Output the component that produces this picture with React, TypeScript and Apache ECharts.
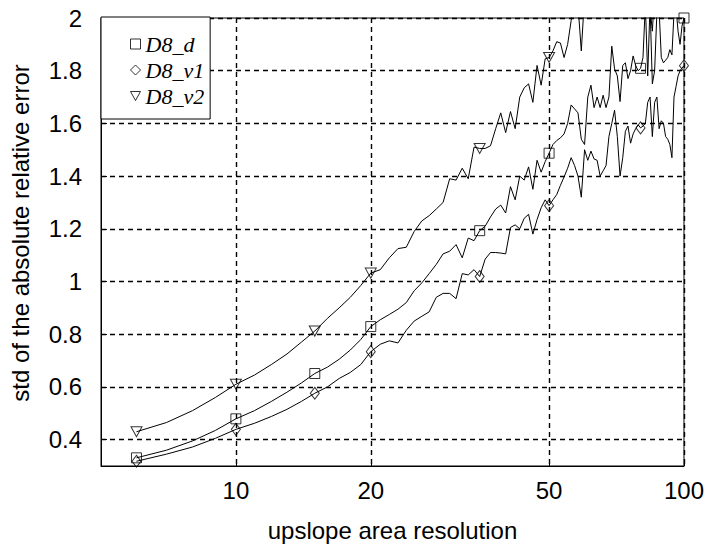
import React, { useEffect, useRef } from "react";
import * as echarts from "echarts";

const resolution = [
  6, 7, 8, 9, 10, 11, 12, 13, 14, 15, 16, 17, 18, 19, 20,
  21, 22, 23, 24, 25, 26, 27, 28, 29, 30,
  31, 32, 33, 34, 35, 36, 37, 38, 39, 40,
  41, 42, 43, 44, 45, 46, 47, 48, 49, 50,
  51, 52, 53, 54, 55, 56, 57, 58, 59, 60,
  61, 62, 63, 64, 65, 66, 67, 68, 69, 70,
  71, 72, 73, 74, 75, 76, 77, 78, 79, 80,
  81, 82, 83, 84, 85, 86, 87, 88, 89, 90,
  91, 92, 93, 94, 95, 96, 97, 98, 99, 100,
];

const d8d = [
  0.331, 0.36, 0.395, 0.435, 0.479, 0.51, 0.545, 0.58, 0.615, 0.651, 0.675, 0.705, 0.74, 0.78, 0.829,
  0.855, 0.875, 0.895, 0.92, 0.965, 0.995, 1.03, 1.065, 1.105, 1.115,
  1.14, 1.09, 1.165, 1.155, 1.193, 1.21, 1.245, 1.275, 1.29, 1.26,
  1.36, 1.31, 1.4, 1.385, 1.435, 1.35, 1.46, 1.415, 1.455, 1.487,
  1.52, 1.535, 1.545, 1.56, 1.6, 1.67, 1.655, 1.64, 1.54, 1.52,
  1.7, 1.745, 1.66, 1.7, 1.66, 1.707, 1.66, 1.7, 1.893, 1.807,
  1.78, 1.683, 1.82, 1.83, 1.77, 1.8, 1.856, 1.82, 1.8, 1.809,
  1.85, 2.05, 1.78, 2.05, 1.75, 1.8, 2.02, 2.03, 1.85, 1.83,
  1.84, 1.85, 1.88, 1.86, 2.02, 2.04, 1.95, 1.9, 1.97, 2.0,
];

const d8v1 = [
  0.318, 0.345, 0.372, 0.405, 0.439, 0.462, 0.488, 0.515, 0.545, 0.576, 0.6, 0.632, 0.655, 0.685, 0.734,
  0.762, 0.775, 0.767, 0.815, 0.85, 0.868, 0.885, 0.94, 0.955, 0.955,
  0.935, 1.03, 1.025, 1.045, 1.019, 1.085, 1.11, 1.11, 1.108, 1.105,
  1.205, 1.215, 1.2, 1.24, 1.255, 1.18, 1.235, 1.28, 1.31, 1.288,
  1.31, 1.33, 1.365, 1.397, 1.43, 1.47, 1.44, 1.4, 1.32, 1.5,
  1.46, 1.495, 1.465, 1.46, 1.4, 1.42, 1.44, 1.55, 1.6, 1.65,
  1.55, 1.4, 1.47, 1.57, 1.59, 1.525, 1.56, 1.58, 1.595, 1.583,
  1.59, 1.6, 1.68, 1.7, 1.55, 1.68, 1.7, 1.58, 1.61, 1.6,
  1.55, 1.54, 1.52, 1.47, 1.7, 1.74, 1.78, 1.8, 1.81, 1.819,
];

const d8v2 = [
  0.43, 0.465, 0.51, 0.56, 0.61, 0.645, 0.685, 0.725, 0.77, 0.812, 0.86, 0.9, 0.94, 0.985, 1.032,
  1.045, 1.09, 1.125, 1.13, 1.19, 1.23, 1.25, 1.275, 1.3, 1.39,
  1.385, 1.43, 1.39, 1.51, 1.505, 1.505, 1.515, 1.58, 1.64, 1.565,
  1.645, 1.58, 1.7, 1.735, 1.75, 1.68, 1.82, 1.745, 1.845, 1.85,
  1.875, 1.91, 1.905, 1.85, 1.9, 1.99, 2.08, 2.05, 1.875, 2.08,
  2.12, 2.06, 2.02, 2.1, 2.15, 2.08, 2.18, 2.12, 2.2, 2.16,
  2.22, 2.18, 2.25, 2.2, 2.26, 2.22, 2.3, 2.24, 2.28, 2.2,
  2.05, 2.02, 2.1, 2.04, 1.95, 2.1, 2.25, 2.3, 2.35, 2.28,
  2.4, 2.32, 2.38, 2.3, 2.4, 2.35, 2.42, 2.38, 2.45, 2.4,
];

const markerResolutions = [6, 10, 15, 20, 35, 50, 80, 100];
const xTicks = [10, 20, 50, 100];
const yTicks = [0.4, 0.6, 0.8, 1, 1.2, 1.4, 1.6, 1.8, 2];
const seriesNames = ["D8_d", "D8_v1", "D8_v2"];
const xName = "upslope area resolution";
const yName = "std of the absolute relative error";

const SANS = "Liberation Sans, Arial, sans-serif";
const SERIF = "Liberation Serif, Times New Roman, serif";
const TRI_DOWN = "path://M0,0L10,0L5,9Z";

export default function App() {
  const ref = useRef<HTMLDivElement>(null);

  useEffect(() => {
    if (!ref.current) return;
    const chart = echarts.init(ref.current, null, { renderer: "svg" });

    const allValues = [d8d, d8v1, d8v2];
    const symbols = ["rect", "diamond", TRI_DOWN];
    const symbolSizes: any[] = [10, [9, 12], [11, 10]];

    const pairs = (vals: number[]) => resolution.map((x, i) => [x, vals[i]]);
    const markers = (vals: number[]) =>
      resolution
        .map((x, i) => [x, vals[i]])
        .filter((p) => markerResolutions.includes(p[0]));

    const lineSeries = allValues.map((vals, k) => ({
      name: seriesNames[k] + " curve",
      type: "line",
      data: pairs(vals),
      symbol: "none",
      clip: true,
      lineStyle: { color: "#000", width: 1 },
      z: 2,
    }));

    const markerSeries = allValues.map((vals, k) => ({
      name: seriesNames[k],
      type: "scatter",
      data: markers(vals),
      symbol: symbols[k],
      symbolSize: symbolSizes[k],
      clip: true,
      itemStyle: { color: "rgba(0,0,0,0)", borderColor: "#000", borderWidth: 1 },
      z: 3,
    }));

    const gridLine = { show: true, lineStyle: { color: "#000", type: [5, 4], width: 1.4 } };

    chart.setOption({
      animation: false,
      backgroundColor: "#fff",
      grid: {
        left: 101,
        top: 18,
        right: 20,
        bottom: 72,
        show: true,
        borderColor: "#000",
        borderWidth: 1,
        backgroundColor: "#fff",
      },
      xAxis: {
        type: "log",
        logBase: 10,
        min: 5,
        max: 100,
        name: xName,
        nameLocation: "middle",
        nameGap: 52,
        nameTextStyle: { fontFamily: SANS, fontSize: 24, color: "#000" },
        axisLine: { show: true, lineStyle: { color: "#000", width: 1 } },
        axisTick: { show: true, inside: true, length: 6, customValues: xTicks, lineStyle: { color: "#000" } },
        axisLabel: {
          customValues: xTicks,
          fontFamily: SANS,
          fontSize: 24,
          color: "#000",
          margin: 12,
          formatter: (v: number) => String(v),
        },
        splitLine: gridLine,
        minorTick: { show: false },
        minorSplitLine: { show: false },
      },
      yAxis: {
        type: "value",
        min: 0.3,
        max: 2,
        axisLine: { show: true, lineStyle: { color: "#000", width: 1 } },
        axisTick: { show: true, inside: true, length: 6, customValues: yTicks, lineStyle: { color: "#000" } },
        axisLabel: {
          customValues: yTicks,
          fontFamily: SANS,
          fontSize: 24,
          color: "#000",
          margin: 19,
          formatter: (v: number) => String(v),
        },
        splitLine: gridLine,
      },
      legend: {
        orient: "vertical",
        left: 101,
        top: 17,
        padding: [16, 6, 12, 29],
        itemGap: 4,
        itemWidth: 10,
        itemHeight: 10,
        backgroundColor: "#fff",
        borderColor: "#000",
        borderWidth: 1,
        borderRadius: 0,
        selectedMode: false,
        textStyle: { fontFamily: SERIF, fontStyle: "italic", fontSize: 22, color: "#000", lineHeight: 22 },
        itemStyle: { color: "rgba(0,0,0,0)", borderColor: "#000", borderWidth: 1 },
        data: seriesNames.map((n, k) => ({ name: n, icon: symbols[k] })),
      },
      graphic: [
        {
          type: "text",
          x: 20,
          y: 233,
          rotation: Math.PI / 2,
          style: {
            text: yName,
            fontFamily: SANS,
            fontSize: 24,
            fill: "#000",
            align: "center",
            verticalAlign: "middle",
          },
        },
      ],
      series: [...lineSeries, ...markerSeries],
    });

    return () => chart.dispose();
  }, []);

  return (
    <div
      ref={ref}
      style={{ position: "fixed", left: 0, top: 0, width: 707, height: 547 }}
    />
  );
}
